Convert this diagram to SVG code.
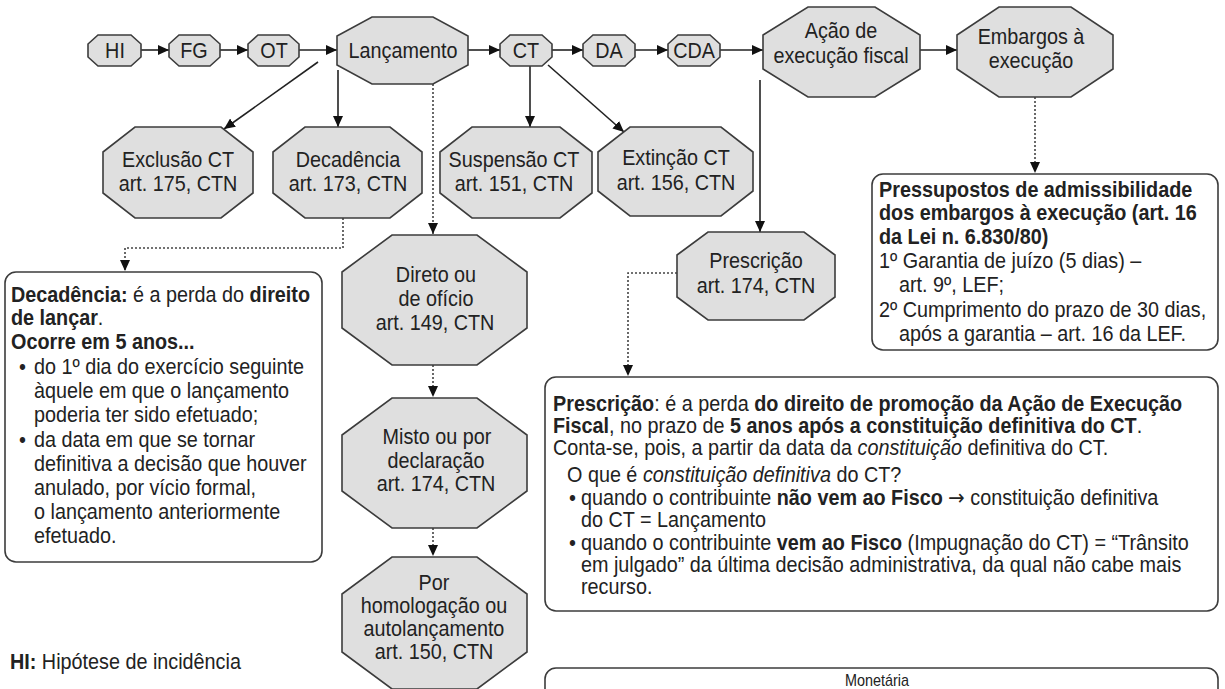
<svg xmlns="http://www.w3.org/2000/svg" width="1225" height="689" viewBox="0 0 1225 689">
<defs>
<style>
.oct{fill:#dfdfdf;stroke:#3c3c3c;stroke-width:1.6}
.box{fill:#fff;stroke:#3c3c3c;stroke-width:1.6}
.t{font-family:"Liberation Sans",Arial,sans-serif;font-size:22px;fill:#222}
.c{text-anchor:middle}
.b{font-weight:bold}
.i{font-style:italic}
.ar{font-family:"DejaVu Sans",sans-serif;font-size:22px}
.ln{stroke:#222;stroke-width:1.6;fill:none}
.dot{stroke:#444;stroke-width:1.6;stroke-dasharray:2 2;fill:none}
</style>
<marker id="ah" viewBox="0 0 11 10" refX="11" refY="5" markerWidth="11" markerHeight="10" markerUnits="userSpaceOnUse" orient="auto">
<path d="M0,0 L11,5 L0,10 z" fill="#111"/>
</marker>
</defs>
<rect width="1225" height="689" fill="#fff"/>

<g id="connectors">
<line class="ln" x1="141" y1="50" x2="169" y2="50" marker-end="url(#ah)"/>
<line class="ln" x1="220" y1="50" x2="248" y2="50" marker-end="url(#ah)"/>
<line class="ln" x1="299" y1="50" x2="337" y2="50" marker-end="url(#ah)"/>
<line class="ln" x1="468" y1="50" x2="500" y2="50" marker-end="url(#ah)"/>
<line class="ln" x1="552" y1="50" x2="583" y2="50" marker-end="url(#ah)"/>
<line class="ln" x1="635" y1="50" x2="668" y2="50" marker-end="url(#ah)"/>
<line class="ln" x1="720" y1="50" x2="763" y2="50" marker-end="url(#ah)"/>
<line class="ln" x1="920" y1="50" x2="957" y2="50" marker-end="url(#ah)"/>
<line class="ln" x1="318" y1="62" x2="224" y2="129" marker-end="url(#ah)"/>
<line class="ln" x1="338" y1="70" x2="338" y2="127" marker-end="url(#ah)"/>
<line class="dot" x1="433" y1="84" x2="433" y2="234" marker-end="url(#ah)"/>
<polyline class="dot" points="343,218 343,248 125,248 125,271" marker-end="url(#ah)"/>
<line class="ln" x1="530" y1="66" x2="530" y2="127" marker-end="url(#ah)"/>
<line class="ln" x1="548" y1="65" x2="624" y2="132" marker-end="url(#ah)"/>
<line class="ln" x1="760" y1="80" x2="760" y2="232" marker-end="url(#ah)"/>
<polyline class="dot" points="677,273 628,273 628,376" marker-end="url(#ah)"/>
<line class="dot" x1="1035" y1="97" x2="1035" y2="173" marker-end="url(#ah)"/>
<line class="dot" x1="433" y1="365" x2="433" y2="397" marker-end="url(#ah)"/>
<line class="dot" x1="433" y1="528" x2="433" y2="556" marker-end="url(#ah)"/>
</g>

<g id="hi"><polygon class="oct" points="98,35 131,35 141,44 141,57 131,66 98,66 88,57 88,44"/>
<text class="t c" transform="translate(115 58) scale(.9 1)">HI</text></g>
<g id="fg"><polygon class="oct" points="179,35 210,35 220,44 220,57 210,66 179,66 169,57 169,44"/>
<text class="t c" transform="translate(194 58) scale(.9 1)">FG</text></g>
<g id="ot"><polygon class="oct" points="258,35 289,35 299,44 299,57 289,66 258,66 248,57 248,44"/>
<text class="t c" transform="translate(274 58) scale(.9 1)">OT</text></g>
<g id="lancamento"><polygon class="oct" points="372,17 433,17 468,36 468,65 433,84 372,84 337,65 337,36"/>
<text class="t c" transform="translate(403 58) scale(.9 1)">Lançamento</text></g>
<g id="ct"><polygon class="oct" points="510,35 542,35 552,44 552,57 542,66 510,66 500,57 500,44"/>
<text class="t c" transform="translate(526 58) scale(.9 1)">CT</text></g>
<g id="da"><polygon class="oct" points="593,35 625,35 635,44 635,57 625,66 593,66 583,57 583,44"/>
<text class="t c" transform="translate(609 58) scale(.9 1)">DA</text></g>
<g id="cda"><polygon class="oct" points="678,35 710,35 720,44 720,57 710,66 678,66 668,57 668,44"/>
<text class="t c" transform="translate(694 58) scale(.9 1)">CDA</text></g>
<g id="acao"><polygon class="oct" points="808,7 875,7 920,35 920,69 875,97 808,97 763,69 763,35"/>
<text class="t c" transform="translate(841 38) scale(.9 1)">Ação de</text>
<text class="t c" transform="translate(841 63) scale(.9 1)">execução fiscal</text></g>
<g id="embargos"><polygon class="oct" points="999,7 1071,7 1113,35 1113,69 1071,97 999,97 957,69 957,35"/>
<text class="t c" transform="translate(1031 44) scale(.9 1)">Embargos à</text>
<text class="t c" transform="translate(1031 68) scale(.9 1)">execução</text></g>

<g id="exclusao"><polygon class="oct" points="135,127 221,127 253,152 253,193 221,218 135,218 103,193 103,152"/>
<text class="t c" transform="translate(178 167) scale(.9 1)">Exclusão CT</text>
<text class="t c" transform="translate(178 191) scale(.9 1)">art. 175, CTN</text></g>
<g id="decadencia"><polygon class="oct" points="305,127 390,127 422,152 422,193 390,218 305,218 273,193 273,152"/>
<text class="t c" transform="translate(348 167) scale(.9 1)">Decadência</text>
<text class="t c" transform="translate(348 191) scale(.9 1)">art. 173, CTN</text></g>
<g id="suspensao"><polygon class="oct" points="472,127 560,127 592,152 592,193 560,218 472,218 440,193 440,152"/>
<text class="t c" transform="translate(514 167) scale(.9 1)">Suspensão CT</text>
<text class="t c" transform="translate(514 191) scale(.9 1)">art. 151, CTN</text></g>
<g id="extincao"><polygon class="oct" points="630,127 721,127 753,152 753,191 721,216 630,216 598,191 598,152"/>
<text class="t c" transform="translate(676 165) scale(.9 1)">Extinção CT</text>
<text class="t c" transform="translate(676 190) scale(.9 1)">art. 156, CTN</text></g>

<g id="direto"><polygon class="oct" points="392,235 477,235 527,272 527,328 477,365 392,365 342,328 342,272"/>
<text class="t c" transform="translate(436 282) scale(.9 1)">Direto ou</text>
<text class="t c" transform="translate(436 306) scale(.9 1)">de ofício</text>
<text class="t c" transform="translate(435 330) scale(.9 1)">art. 149, CTN</text></g>
<g id="misto"><polygon class="oct" points="392,398 477,398 527,435 527,491 477,528 392,528 342,491 342,435"/>
<text class="t c" transform="translate(437 444) scale(.9 1)">Misto ou por</text>
<text class="t c" transform="translate(436 468) scale(.9 1)">declaração</text>
<text class="t c" transform="translate(436 491) scale(.9 1)">art. 174, CTN</text></g>
<g id="por"><polygon class="oct" points="392,557 477,557 527,594 527,652 477,689 392,689 342,652 342,594"/>
<text class="t c" transform="translate(434 590) scale(.9 1)">Por</text>
<text class="t c" transform="translate(434 613) scale(.9 1)">homologação ou</text>
<text class="t c" transform="translate(434 636) scale(.9 1)">autolançamento</text>
<text class="t c" transform="translate(434 659) scale(.9 1)">art. 150, CTN</text></g>
<g id="prescricao"><polygon class="oct" points="708,232 804,232 835,255 835,297 804,320 708,320 677,297 677,255"/>
<text class="t c" transform="translate(756 268) scale(.9 1)">Prescrição</text>
<text class="t c" transform="translate(756 293) scale(.9 1)">art. 174, CTN</text></g>

<g id="box-decadencia">
<rect class="box" x="5" y="272" width="317" height="290" rx="11"/>
<text class="t" transform="translate(11 302) scale(.9 1)"><tspan class="b">Decadência:</tspan> é a perda do <tspan class="b">direito</tspan></text>
<text class="t" transform="translate(11 325) scale(.9 1)"><tspan class="b">de lançar</tspan>.</text>
<text class="t b" transform="translate(11 349) scale(.9 1)">Ocorre em 5 anos...</text>
<text class="t" transform="translate(19 374) scale(.9 1)">•</text>
<text class="t" transform="translate(34 374) scale(.9 1)">do 1º dia do exercício seguinte</text>
<text class="t" transform="translate(34 398) scale(.9 1)">àquele em que o lançamento</text>
<text class="t" transform="translate(34 422) scale(.9 1)">poderia ter sido efetuado;</text>
<text class="t" transform="translate(19 447) scale(.9 1)">•</text>
<text class="t" transform="translate(34 447) scale(.9 1)">da data em que se tornar</text>
<text class="t" transform="translate(34 471) scale(.9 1)">definitiva a decisão que houver</text>
<text class="t" transform="translate(34 495) scale(.9 1)">anulado, por vício formal,</text>
<text class="t" transform="translate(34 519) scale(.9 1)">o lançamento anteriormente</text>
<text class="t" transform="translate(34 543) scale(.9 1)">efetuado.</text>
</g>

<g id="box-pressupostos">
<rect class="box" x="872" y="174" width="346" height="176" rx="11"/>
<text class="t b" transform="translate(879 197) scale(.9 1)">Pressupostos de admissibilidade</text>
<text class="t b" transform="translate(879 220) scale(.9 1)">dos embargos à execução (art. 16</text>
<text class="t b" transform="translate(879 244) scale(.9 1)">da Lei n. 6.830/80)</text>
<text class="t" transform="translate(879 268) scale(.9 1)">1º Garantia de juízo (5 dias) –</text>
<text class="t" transform="translate(899 292) scale(.9 1)">art. 9º, LEF;</text>
<text class="t" transform="translate(879 317) scale(.9 1)">2º Cumprimento do prazo de 30 dias,</text>
<text class="t" transform="translate(899 341) scale(.9 1)">após a garantia – art. 16 da LEF.</text>
</g>

<g id="box-prescricao">
<rect class="box" x="545" y="377" width="673" height="234" rx="11"/>
<text class="t" transform="translate(553 411) scale(.9 1)"><tspan class="b">Prescrição</tspan>: é a perda <tspan class="b">do direito de promoção da Ação de Execução</tspan></text>
<text class="t" transform="translate(553 433) scale(.9 1)"><tspan class="b">Fiscal</tspan>, no prazo de <tspan class="b">5 anos após a constituição definitiva do CT</tspan>.</text>
<text class="t" transform="translate(553 455) scale(.9 1)">Conta-se, pois, a partir da data da <tspan class="i">constituição</tspan> definitiva do CT.</text>
<text class="t" transform="translate(567 482) scale(.9 1)">O que é <tspan class="i">constituição definitiva</tspan> do CT?</text>
<text class="t" transform="translate(569 505) scale(.9 1)">•</text>
<text class="t" transform="translate(581 505) scale(.9 1)">quando o contribuinte <tspan class="b">não vem ao Fisco</tspan> <tspan class="ar">→</tspan> constituição definitiva</text>
<text class="t" transform="translate(581 527) scale(.9 1)">do CT = Lançamento</text>
<text class="t" transform="translate(569 550) scale(.9 1)">•</text>
<text class="t" transform="translate(581 550) scale(.9 1)">quando o contribuinte <tspan class="b">vem ao Fisco</tspan> (Impugnação do CT) = “Trânsito</text>
<text class="t" transform="translate(581 572) scale(.9 1)">em julgado” da última decisão administrativa, da qual não cabe mais</text>
<text class="t" transform="translate(581 594) scale(.9 1)">recurso.</text>
</g>

<g id="box-bottom">
<rect class="box" x="545" y="668" width="673" height="60" rx="11"/>
<text class="t" style="font-size:16px" transform="translate(845 686) scale(.9 1)">Monetária</text>
</g>

<g id="legend">
<text class="t" transform="translate(10 669) scale(.9 1)"><tspan class="b">HI:</tspan> Hipótese de incidência</text>
</g>
</svg>
